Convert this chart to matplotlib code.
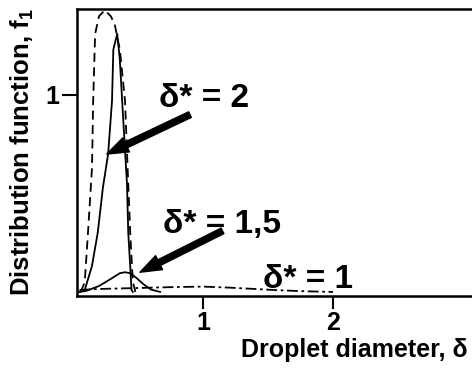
import matplotlib
matplotlib.use("Agg")
import matplotlib.pyplot as plt

plt.rcParams['font.family'] = ['Liberation Sans', 'DejaVu Sans']
plt.rcParams['font.weight'] = 'bold'
plt.rcParams['mathtext.fontset'] = 'custom'
plt.rcParams['mathtext.rm'] = 'Liberation Sans:bold'

# Droplet size distributions f1(delta) for several delta*
dash_x = [0.06, 0.09, 0.115, 0.146, 0.155, 0.17, 0.20, 0.245, 0.29, 0.32, 0.36, 0.40, 0.42, 0.44, 0.46, 0.48]
dash_f = [0.0, 0.05, 0.30, 0.63, 0.97, 1.31, 1.40, 1.43, 1.40, 1.36, 1.23, 0.97, 0.63, 0.30, 0.05, 0.0]

d2_x = [0.05, 0.09, 0.145, 0.19, 0.23, 0.27, 0.30, 0.31, 0.34, 0.36, 0.385, 0.415, 0.425, 0.44, 0.45, 0.46]
d2_f = [0.0, 0.01, 0.13, 0.30, 0.53, 0.70, 0.97, 1.23, 1.31, 1.18, 0.89, 0.55, 0.30, 0.13, 0.01, 0.0]

d15_x = [0.05, 0.10, 0.20, 0.30, 0.36, 0.40, 0.44, 0.49, 0.54, 0.60, 0.67]
d15_f = [0.0, 0.005, 0.03, 0.07, 0.095, 0.10, 0.095, 0.07, 0.04, 0.012, 0.0]

d1_x = [0.05, 0.2, 0.5, 0.8, 1.0, 1.2, 1.4, 1.6, 1.8, 2.0]
d1_f = [0.01, 0.015, 0.02, 0.025, 0.027, 0.022, 0.015, 0.008, 0.003, 0.0]

x_ticks = [1, 2]
y_ticks = [1]

fig = plt.figure(figsize=(4.72, 3.68), dpi=100)
ax = fig.add_axes([0.163, 0.196, 0.837, 0.780])

ax.plot(dash_x, dash_f, color='black', lw=1.3, linestyle=(0, (5, 3)))
ax.plot(d2_x, d2_f, color='black', lw=1.3)
ax.plot(d15_x, d15_f, color='black', lw=1.3)
ax.plot(d1_x, d1_f, color='black', lw=1.3, linestyle=(0, (6, 2, 1.5, 2)))

ax.set_xlim(0.03, 3.07)
ax.set_ylim(-0.02, 1.437)

for side in ('top', 'left', 'bottom'):
    ax.spines[side].set_linewidth(1.8)
ax.spines['right'].set_visible(False)

ax.set_xticks(x_ticks)
ax.set_xticklabels([str(t) for t in x_ticks])
ax.set_yticks(y_ticks)
ax.set_yticklabels([str(t) for t in y_ticks])
ax.tick_params(axis='x', direction='out', length=9, width=1.5, pad=2, labelsize=18)
ax.tick_params(axis='y', direction='out', length=11, width=1.5, pad=2, labelsize=18)

txt = dict(fontsize=24, fontweight='bold', ha='left', va='baseline')
ax.text(0.66, 0.94, 'δ* = 2', **txt)
ax.text(0.69, 0.30, 'δ* = 1,5', **txt)
ax.text(1.46, 0.02, 'δ* = 1', **txt)

arrow = dict(arrowstyle='simple,head_length=1.1,head_width=0.8,tail_width=0.32',
             fc='black', ec='black', mutation_scale=14, shrinkA=0, shrinkB=0)
ax.annotate('', xy=(0.26, 0.70), xytext=(0.90, 0.90), arrowprops=arrow)
ax.annotate('', xy=(0.515, 0.10), xytext=(1.15, 0.31), arrowprops=arrow)

fig.text(468 / 472, 1 - 357 / 368, 'Droplet diameter, δ', fontsize=18,
         fontweight='bold', ha='right', va='baseline')
fig.text(22 / 472, 0.587, r'Distribution function, f$_\mathregular{1}$', fontsize=18.5,
         fontweight='bold', rotation=90, ha='center', va='center')

fig.savefig('out.png', dpi=100)
